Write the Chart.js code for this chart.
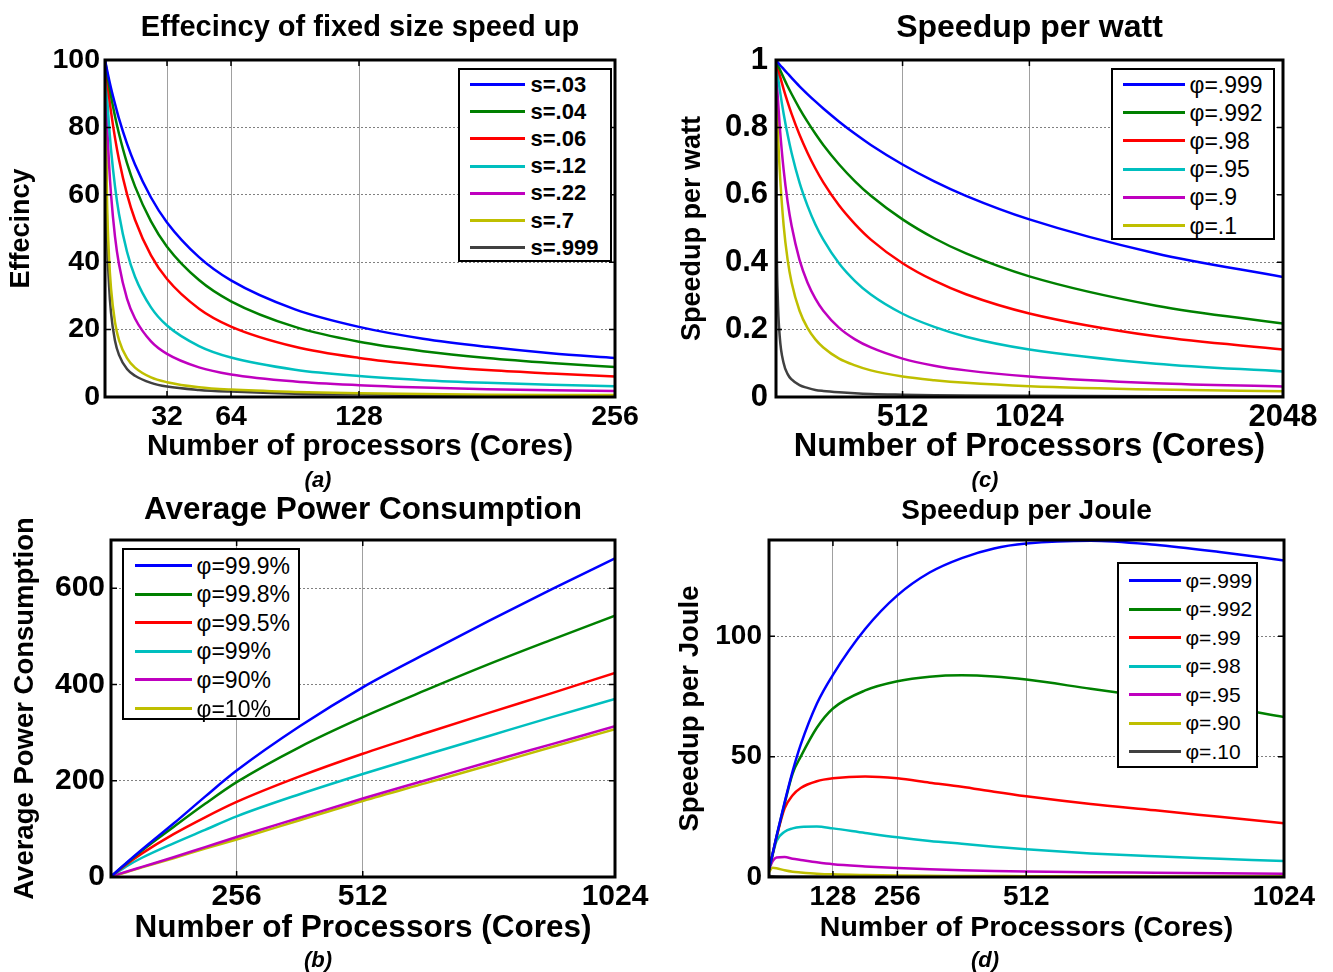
<!DOCTYPE html>
<html>
<head>
<meta charset="utf-8">
<script src="https://cdn.jsdelivr.net/npm/chart.js@4.4.0/dist/chart.umd.min.js"></script>
<style>
  body { margin: 0; width: 1333px; height: 972px; position: relative; overflow: hidden; background: #fff; }
  canvas { position: absolute; }
  .legend { position: absolute; background: #fff; border: 2.5px solid #000; box-sizing: border-box; }
  .legend span { position: absolute; height: 3px; }
  .legend div { position: absolute; white-space: nowrap; line-height: 1; transform: translateY(-50%); color: #000; }
  .cap { position: absolute; font: italic bold 22px "Liberation Sans", Arial, sans-serif; transform: translate(-50%, -50%); }
</style>
</head>
<body>
<canvas id="chartA" width="660" height="470" style="left:0;top:0"></canvas>
<canvas id="chartC" width="673" height="470" style="left:660px;top:0"></canvas>
<canvas id="chartB" width="660" height="470" style="left:0;top:490px"></canvas>
<canvas id="chartD" width="673" height="470" style="left:660px;top:490px"></canvas>
<div class="cap" style="left:318px;top:480px">(a)</div>
<div class="cap" style="left:985px;top:480px">(c)</div>
<div class="cap" style="left:318px;top:960px">(b)</div>
<div class="cap" style="left:985px;top:960px">(d)</div>
<script>
  /* ---------- (a) efficiency of fixed size speed up ---------- */
  var aCores = [1, 2, 3, 4, 6, 8, 12, 16, 24, 32, 48, 64, 96, 128, 160, 192, 224, 256];
  var aLabels = ['s=.03', 's=.04', 's=.06', 's=.12', 's=.22', 's=.7', 's=.999'];
  var aS03 = [100, 97.1, 94.3, 91.7, 87.0, 82.6, 75.2, 69.0, 59.2, 51.8, 41.5, 34.6, 26.0, 20.8, 17.3, 14.9, 13.0, 11.6];
  var aS04 = [100, 96.2, 92.6, 89.3, 83.3, 78.1, 69.4, 62.5, 52.1, 44.6, 34.7, 28.4, 20.8, 16.4, 13.6, 11.6, 10.1, 8.9];
  var aS06 = [100, 94.3, 89.3, 84.7, 76.9, 70.4, 60.2, 52.6, 42.0, 35.0, 26.2, 20.9, 14.9, 11.6, 9.5, 8.0, 7.0, 6.1];
  var aS12 = [100, 89.3, 80.6, 73.5, 62.5, 54.3, 43.1, 35.7, 26.6, 21.2, 15.1, 11.7, 8.1, 6.2, 5.0, 4.2, 3.6, 3.2];
  var aS22 = [100, 82.0, 69.4, 60.2, 47.6, 39.4, 29.2, 23.3, 16.5, 12.8, 8.8, 6.7, 4.6, 3.5, 2.8, 2.3, 2.0, 1.8];
  var aS7 = [100, 58.8, 41.7, 32.3, 22.2, 16.9, 11.5, 8.7, 5.8, 4.4, 2.9, 2.2, 1.5, 1.1, 0.9, 0.7, 0.6, 0.6];
  var aS999 = [100, 50.0, 33.4, 25.0, 16.7, 12.5, 8.3, 6.3, 4.2, 3.1, 2.1, 1.6, 1.0, 0.8, 0.6, 0.5, 0.4, 0.4];
  var aXTicks = [32, 64, 128, 256];
  var aYTicks = [0, 20, 40, 60, 80, 100];

  /* ---------- (c) speedup per watt ---------- */
  var cCores = [1, 4, 8, 16, 32, 48, 64, 96, 128, 160, 192, 256, 320, 384, 512, 640, 768, 1024, 1536, 2048];
  var cLabels = ['\u03c6=.999', '\u03c6=.992', '\u03c6=.98', '\u03c6=.95', '\u03c6=.9', '\u03c6=.1', null];
  var c999 = [1, 0.997, 0.993, 0.986, 0.973, 0.960, 0.947, 0.922, 0.899, 0.877, 0.856, 0.817, 0.781, 0.748, 0.690, 0.640, 0.597, 0.527, 0.426, 0.356];
  var c992 = [1, 0.993, 0.986, 0.973, 0.947, 0.922, 0.899, 0.856, 0.817, 0.781, 0.748, 0.690, 0.640, 0.597, 0.527, 0.471, 0.426, 0.358, 0.271, 0.218];
  var c98 = [1, 0.988, 0.977, 0.955, 0.913, 0.875, 0.840, 0.778, 0.725, 0.678, 0.637, 0.568, 0.513, 0.467, 0.397, 0.345, 0.305, 0.248, 0.180, 0.141];
  var c95 = [1, 0.977, 0.955, 0.913, 0.840, 0.778, 0.724, 0.636, 0.568, 0.512, 0.467, 0.396, 0.344, 0.304, 0.247, 0.208, 0.179, 0.141, 0.099, 0.076];
  var c9 = [1, 0.943, 0.892, 0.805, 0.673, 0.579, 0.508, 0.407, 0.340, 0.292, 0.256, 0.205, 0.171, 0.147, 0.114, 0.093, 0.079, 0.061, 0.041, 0.031];
  var c1 = [1, 0.89, 0.80, 0.673, 0.508, 0.407, 0.340, 0.256, 0.205, 0.171, 0.147, 0.114, 0.094, 0.079, 0.061, 0.050, 0.042, 0.032, 0.022, 0.017];
  var cGray = [1, 0.47, 0.30, 0.18, 0.10, 0.068, 0.052, 0.035, 0.027, 0.021, 0.018, 0.014, 0.011, 0.009, 0.007, 0.0055, 0.0045, 0.0034, 0.0023, 0.0017];
  var cXTicks = [512, 1024, 2048];
  var cYTicks = [0, 0.2, 0.4, 0.6, 0.8, 1];

  /* ---------- (b) average power consumption ---------- */
  var bCores = [1, 32, 64, 128, 192, 256, 384, 512, 640, 768, 896, 1024];
  var bLabels = ['\u03c6=99.9%', '\u03c6=99.8%', '\u03c6=99.5%', '\u03c6=99%', '\u03c6=90%', '\u03c6=10%'];
  var b999 = [1, 29, 57, 111, 167, 221, 313, 394, 464, 532, 598, 662];
  var b998 = [1, 28, 55, 104, 152, 197, 270, 332, 388, 442, 493, 543];
  var b995 = [1, 26, 49, 89, 124, 156, 209, 256, 299, 341, 382, 424];
  var b99 = [1, 22, 40, 70, 98, 126, 172, 214, 254, 293, 332, 370];
  var b90 = [1, 11, 21, 41, 62, 83, 123, 163, 201, 239, 276, 313];
  var b10 = [1, 10, 20, 39, 59, 78, 118, 158, 195, 232, 270, 307];
  var bXTicks = [256, 512, 1024];
  var bYTicks = [0, 200, 400, 600];

  /* ---------- (d) speedup per joule ---------- */
  var dCores = [1, 8, 16, 32, 48, 64, 96, 128, 192, 256, 320, 384, 448, 512, 640, 768, 896, 1024];
  var dLabels = ['\u03c6=.999', '\u03c6=.992', '\u03c6=.99', '\u03c6=.98', '\u03c6=.95', '\u03c6=.90', '\u03c6=.10'];
  var d999 = [3, 9.5, 17, 31, 44, 55, 72, 84, 103, 117, 126.5, 132.5, 136.5, 138.5, 139.7, 138, 135, 131.5];
  var d992 = [3, 9.4, 16.8, 30.5, 43, 50, 62, 70, 77.5, 81.3, 83.2, 83.8, 83.3, 82, 78.2, 74.5, 71, 66.5];
  var d99 = [3, 9.3, 16.5, 28.5, 34, 37, 39.8, 41, 41.8, 41, 39.2, 37.5, 35.4, 33.5, 30.3, 27.7, 25, 22.3];
  var d98 = [3, 9, 15, 18.8, 20.2, 20.8, 21, 20.2, 18.3, 16.5, 15, 13.8, 12.6, 11.5, 9.8, 8.6, 7.6, 6.6];
  var d95 = [3, 6.5, 8.1, 8.3, 7.6, 7.1, 6.1, 5.3, 4.4, 3.7, 3.2, 2.8, 2.5, 2.3, 2.0, 1.8, 1.6, 1.4];
  var d90 = [2, 3.8, 3.6, 2.8, 2.2, 1.9, 1.4, 1.1, 0.8, 0.6, 0.5, 0.45, 0.4, 0.35, 0.3, 0.25, 0.22, 0.2];
  var d10 = [0.5, 0.3, 0.2, 0.12, 0.1, 0.08, 0.06, 0.05, 0.04, 0.03, 0.03, 0.02, 0.02, 0.02, 0.02, 0.01, 0.01, 0.01];
  var dXTicks = [128, 256, 512, 1024];
  var dYTicks = [0, 50, 100];

  var colors = ['#0000ff', '#008000', '#ff0000', '#00bfbf', '#bf00bf', '#bfbf00', '#404040'];
  var FONT = '"Liberation Sans", Arial, sans-serif';
  Chart.defaults.font.family = FONT;
  Chart.defaults.color = '#000';

  // black box round the plot plus matlab style inward ticks
  var frame = {
    id: 'frame',
    afterDatasetsDraw: function (chart) {
      var ctx = chart.ctx, a = chart.chartArea, x = chart.scales.x, y = chart.scales.y;
      ctx.save();
      ctx.strokeStyle = '#000';
      ctx.lineWidth = 1.5;
      ctx.beginPath();
      x.ticks.forEach(function (t) {
        var p = x.getPixelForValue(t.value);
        ctx.moveTo(p, a.bottom); ctx.lineTo(p, a.bottom - 6);
        ctx.moveTo(p, a.top); ctx.lineTo(p, a.top + 6);
      });
      y.ticks.forEach(function (t) {
        var p = y.getPixelForValue(t.value);
        ctx.moveTo(a.left, p); ctx.lineTo(a.left + 6, p);
        ctx.moveTo(a.right, p); ctx.lineTo(a.right - 6, p);
      });
      ctx.stroke();
      ctx.lineWidth = 3;
      ctx.strokeRect(a.left, a.top, a.right - a.left, a.bottom - a.top);
      ctx.restore();
    }
  };

  function panel(id, o) {
    var L = o.box[0], T = o.box[1], W = o.box[2];
    var pl = o.plot[0] - L, pt = o.plot[1] - T, pr = o.plot[2] - L, pb = o.plot[3] - T;
    var tlh = o.titleSize * 1.2, klh = o.tickSize * 1.2, xlh = o.xTitleSize * 1.2, ylh = o.yTitleSize * 1.2;
    var titleTop = o.titleY - T - tlh / 2;
    var xBottom = o.xTitleY - T + xlh / 2;
    var H = o.box[3];
    var datasets = o.series.map(function (vals, i) {
      return {
        label: o.labels[i],
        data: o.cores.map(function (c, j) { return { x: c, y: vals[j] }; }),
        borderColor: colors[i],
        borderWidth: 2.5,
        pointRadius: 0,
        fill: false,
        cubicInterpolationMode: 'monotone'
      };
    });
    return new Chart(document.getElementById(id), {
      type: 'line',
      data: { datasets: datasets },
      options: {
        responsive: false,
        animation: false,
        events: [],
        layout: { padding: { left: 0, top: 0, right: W - pr, bottom: H - xBottom } },
        plugins: {
          legend: { display: false },
          tooltip: { enabled: false },
          title: {
            display: true, text: o.title, fullSize: false, color: '#000',
            font: { size: o.titleSize, weight: 'bold' },
            padding: { top: titleTop, bottom: pt - titleTop - tlh }
          }
        },
        scales: {
          x: {
            type: 'linear', min: 1, max: o.xMax,
            afterBuildTicks: function (s) { s.ticks = o.xTicks.map(function (v) { return { value: v }; }); },
            afterFit: function (s) { s.height = xBottom - pb; },
            ticks: {
              font: { size: o.tickSize, weight: 'bold' }, color: '#000', maxRotation: 0, autoSkip: false,
              padding: o.tickY - T - pb - klh / 2,
              callback: function (v) { return String(v); }
            },
            grid: { color: '#a0a0a0', lineWidth: 1, drawTicks: false },
            border: { display: false },
            title: { display: true, text: o.xTitle, color: '#000', font: { size: o.xTitleSize, weight: 'bold' }, padding: 0 }
          },
          y: {
            min: 0, max: o.yMax,
            afterBuildTicks: function (s) { s.ticks = o.yTicks.map(function (v) { return { value: v }; }); },
            afterFit: function (s) { s.width = pl; },
            ticks: {
              font: { size: o.tickSize, weight: 'bold' }, color: '#000', padding: o.tickGap,
              callback: function (v) { return String(v); }
            },
            grid: { color: '#808080', lineWidth: 1, drawTicks: false },
            border: { display: false, dash: [2, 2] },
            title: {
              display: true, text: o.yTitle, color: '#000', font: { size: o.yTitleSize, weight: 'bold' },
              padding: { top: o.yTitleX - L - ylh / 2, bottom: 0 }
            }
          }
        }
      },
      plugins: [frame]
    });
  }

  function legend(chart, g) {
    var box = document.createElement('div');
    box.className = 'legend';
    box.style.left = g.box[0] + 'px';
    box.style.top = g.box[1] + 'px';
    box.style.width = (g.box[2] - g.box[0]) + 'px';
    box.style.height = (g.box[3] - g.box[1]) + 'px';
    var k = 0;
    chart.data.datasets.forEach(function (d) {
      if (!d.label) return;
      var cy = g.row0 + k * g.step - g.box[1] - 2.5;
      var line = document.createElement('span');
      line.style.left = Math.round(g.line[0] - g.box[0] - 2.5) + 'px';
      line.style.top = Math.round(cy - 1.5) + 'px';
      line.style.width = (g.line[1] - g.line[0]) + 'px';
      line.style.background = d.borderColor;
      var t = document.createElement('div');
      t.textContent = d.label;
      t.style.left = (g.text - g.box[0] - 2.5) + 'px';
      t.style.top = cy + 'px';
      t.style.font = g.font;
      box.appendChild(line);
      box.appendChild(t);
      k++;
    });
    document.body.appendChild(box);
  }

  var chartA = panel('chartA', {
    box: [0, 0, 660, 470], plot: [105, 60, 615, 397],
    cores: aCores, labels: aLabels, series: [aS03, aS04, aS06, aS12, aS22, aS7, aS999],
    xMax: 256, yMax: 100, xTicks: aXTicks, yTicks: aYTicks,
    title: 'Effecincy of fixed size speed up', titleSize: 29, titleY: 28,
    xTitle: 'Number of processors (Cores)', xTitleSize: 29.5, xTitleY: 447,
    yTitle: 'Effecincy', yTitleSize: 27, yTitleX: 22,
    tickSize: 28.5, tickY: 417, tickGap: 5
  });
  var chartC = panel('chartC', {
    box: [660, 0, 673, 470], plot: [776, 60, 1283, 397],
    cores: cCores, labels: cLabels, series: [c999, c992, c98, c95, c9, c1, cGray],
    xMax: 2048, yMax: 1, xTicks: cXTicks, yTicks: cYTicks,
    title: 'Speedup per watt', titleSize: 32, titleY: 28,
    xTitle: 'Number of Processors (Cores)', xTitleSize: 32.5, xTitleY: 447,
    yTitle: 'Speedup per watt', yTitleSize: 27, yTitleX: 693,
    tickSize: 31, tickY: 417, tickGap: 8
  });
  var chartB = panel('chartB', {
    box: [0, 490, 660, 470], plot: [111, 540, 615, 877],
    cores: bCores, labels: bLabels, series: [b999, b998, b995, b99, b90, b10],
    xMax: 1024, yMax: 700, xTicks: bXTicks, yTicks: bYTicks,
    title: 'Average Power Consumption', titleSize: 31.5, titleY: 510,
    xTitle: 'Number of Processors (Cores)', xTitleSize: 31.5, xTitleY: 928,
    yTitle: 'Average Power Consumption', yTitleSize: 27.5, yTitleX: 25,
    tickSize: 30, tickY: 897, tickGap: 6
  });
  var chartD = panel('chartD', {
    box: [660, 490, 673, 470], plot: [769, 540, 1284, 877],
    cores: dCores, labels: dLabels, series: [d999, d992, d99, d98, d95, d90, d10],
    xMax: 1024, yMax: 140, xTicks: dXTicks, yTicks: dYTicks,
    title: 'Speedup per Joule', titleSize: 28, titleY: 511,
    xTitle: 'Number of Processors (Cores)', xTitleSize: 28.5, xTitleY: 928,
    yTitle: 'Speedup per Joule', yTitleSize: 27.5, yTitleX: 690,
    tickSize: 28, tickY: 897, tickGap: 7
  });

  legend(chartA, { box: [458, 68, 612, 262], row0: 85, step: 27.2, line: [470, 525], text: 531, font: 'bold 22px ' + FONT });
  legend(chartC, { box: [1111, 68, 1275, 240], row0: 85, step: 28.2, line: [1123, 1185], text: 1190, font: '23px ' + FONT });
  legend(chartB, { box: [122, 548, 300, 720], row0: 566, step: 28.6, line: [135, 192], text: 197, font: '23px ' + FONT });
  legend(chartD, { box: [1117, 562, 1258, 768], row0: 581, step: 28.5, line: [1129, 1181], text: 1186, font: '21px ' + FONT });
</script>
</body>
</html>
